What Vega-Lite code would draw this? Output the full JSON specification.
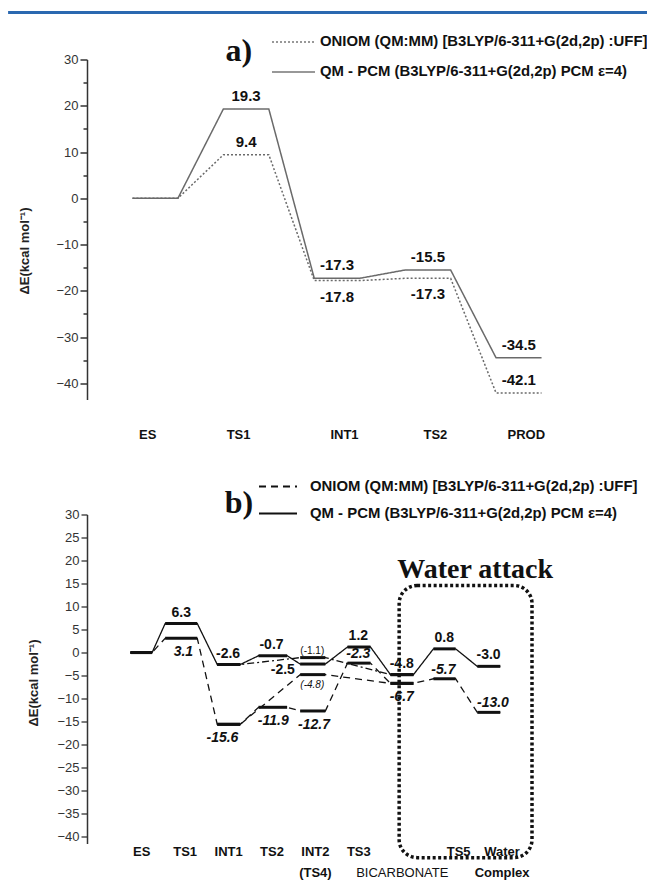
{
  "$schema": "https://vega.github.io/schema/vega-lite/v6.json",
  "padding": {"left": 6, "top": 10.5, "right": 0, "bottom": 0},
  "background": "white",
  "config": {"view": {"stroke": null}, "font": "Liberation Sans", "axis": {"grid": false, "labelOverlap": false, "labelFlush": false}, "axisY": {"tickCount": 15}},
  "bounds": "flush",
  "spacing": 115,
  "resolve": {"scale": {"strokeDash": "independent"}, "legend": {"strokeDash": "independent"}},
  "datasets": {
    "levA": [
      {"state": "ES", "idx": 0, "s": "QM - PCM (B3LYP/6-311+G(2d,2p) PCM  ε=4)", "x0": -0.25, "x1": 0.25, "E": 0, "lab": null, "pos": "none"},
      {"state": "TS1", "idx": 1, "s": "QM - PCM (B3LYP/6-311+G(2d,2p) PCM  ε=4)", "x0": 0.75, "x1": 1.25, "E": 19.3, "lab": "19.3", "pos": "above"},
      {"state": "INT1", "idx": 2, "s": "QM - PCM (B3LYP/6-311+G(2d,2p) PCM  ε=4)", "x0": 1.75, "x1": 2.25, "E": -17.3, "lab": "-17.3", "pos": "above"},
      {"state": "TS2", "idx": 3, "s": "QM - PCM (B3LYP/6-311+G(2d,2p) PCM  ε=4)", "x0": 2.75, "x1": 3.25, "E": -15.5, "lab": "-15.5", "pos": "above"},
      {"state": "PROD", "idx": 4, "s": "QM - PCM (B3LYP/6-311+G(2d,2p) PCM  ε=4)", "x0": 3.75, "x1": 4.25, "E": -34.5, "lab": "-34.5", "pos": "above"},
      {"state": "ES", "idx": 0, "s": "ONIOM (QM:MM) [B3LYP/6-311+G(2d,2p) :UFF]", "x0": -0.25, "x1": 0.25, "E": 0, "lab": null, "pos": "none"},
      {"state": "TS1", "idx": 1, "s": "ONIOM (QM:MM) [B3LYP/6-311+G(2d,2p) :UFF]", "x0": 0.75, "x1": 1.25, "E": 9.4, "lab": "9.4", "pos": "above"},
      {"state": "INT1", "idx": 2, "s": "ONIOM (QM:MM) [B3LYP/6-311+G(2d,2p) :UFF]", "x0": 1.75, "x1": 2.25, "E": -17.8, "lab": "-17.8", "pos": "below"},
      {"state": "TS2", "idx": 3, "s": "ONIOM (QM:MM) [B3LYP/6-311+G(2d,2p) :UFF]", "x0": 2.75, "x1": 3.25, "E": -17.3, "lab": "-17.3", "pos": "below"},
      {"state": "PROD", "idx": 4, "s": "ONIOM (QM:MM) [B3LYP/6-311+G(2d,2p) :UFF]", "x0": 3.75, "x1": 4.25, "E": -42.1, "lab": "-42.1", "pos": "above"}
    ],
    "levB": [
      {"path": "QM - PCM (B3LYP/6-311+G(2d,2p) PCM  ε=4)", "state": "ES", "x0": -0.25, "x1": 0.25, "E": 0},
      {"path": "QM - PCM (B3LYP/6-311+G(2d,2p) PCM  ε=4)", "state": "TS1", "x0": 0.55, "x1": 1.29, "E": 6.3},
      {"path": "QM - PCM (B3LYP/6-311+G(2d,2p) PCM  ε=4)", "state": "INT1", "x0": 1.75, "x1": 2.28, "E": -2.6},
      {"path": "QM - PCM (B3LYP/6-311+G(2d,2p) PCM  ε=4)", "state": "TS2", "x0": 2.7, "x1": 3.36, "E": -0.7},
      {"path": "QM - PCM (B3LYP/6-311+G(2d,2p) PCM  ε=4)", "state": "INT2", "x0": 3.66, "x1": 4.24, "E": -2.5},
      {"path": "QM - PCM (B3LYP/6-311+G(2d,2p) PCM  ε=4)", "state": "TS3", "x0": 4.75, "x1": 5.28, "E": 1.2},
      {"path": "QM - PCM (B3LYP/6-311+G(2d,2p) PCM  ε=4)", "state": "BICARBONATE", "x0": 5.74, "x1": 6.27, "E": -4.8},
      {"path": "QM - PCM (B3LYP/6-311+G(2d,2p) PCM  ε=4)", "state": "TS5", "x0": 6.73, "x1": 7.24, "E": 0.8},
      {"path": "QM - PCM (B3LYP/6-311+G(2d,2p) PCM  ε=4)", "state": "Water Complex", "x0": 7.74, "x1": 8.27, "E": -3.0},
      {"path": "ONIOM (QM:MM) [B3LYP/6-311+G(2d,2p) :UFF]", "state": "ES", "x0": -0.25, "x1": 0.25, "E": 0},
      {"path": "ONIOM (QM:MM) [B3LYP/6-311+G(2d,2p) :UFF]", "state": "TS1", "x0": 0.55, "x1": 1.29, "E": 3.1},
      {"path": "ONIOM (QM:MM) [B3LYP/6-311+G(2d,2p) :UFF]", "state": "INT1", "x0": 1.75, "x1": 2.28, "E": -15.6},
      {"path": "ONIOM (QM:MM) [B3LYP/6-311+G(2d,2p) :UFF]", "state": "TS2", "x0": 2.7, "x1": 3.36, "E": -11.9},
      {"path": "ONIOM (QM:MM) [B3LYP/6-311+G(2d,2p) :UFF]", "state": "INT2", "x0": 3.66, "x1": 4.24, "E": -12.7},
      {"path": "ONIOM (QM:MM) [B3LYP/6-311+G(2d,2p) :UFF]", "state": "TS3", "x0": 4.75, "x1": 5.28, "E": -2.3},
      {"path": "ONIOM (QM:MM) [B3LYP/6-311+G(2d,2p) :UFF]", "state": "BICARBONATE", "x0": 5.74, "x1": 6.27, "E": -6.7},
      {"path": "ONIOM (QM:MM) [B3LYP/6-311+G(2d,2p) :UFF]", "state": "TS5", "x0": 6.73, "x1": 7.24, "E": -5.7},
      {"path": "ONIOM (QM:MM) [B3LYP/6-311+G(2d,2p) :UFF]", "state": "Water Complex", "x0": 7.74, "x1": 8.27, "E": -13.0},
      {"path": "QM via TS4", "state": "INT1", "x0": 1.75, "x1": 2.28, "E": -2.6},
      {"path": "QM via TS4", "state": "TS4", "x0": 3.66, "x1": 4.24, "E": -1.1},
      {"path": "QM via TS4", "state": "BICARBONATE", "x0": 5.74, "x1": 6.27, "E": -4.8},
      {"path": "ONIOM via TS4", "state": "INT1", "x0": 1.75, "x1": 2.28, "E": -15.6},
      {"path": "ONIOM via TS4", "state": "TS4", "x0": 3.66, "x1": 4.24, "E": -4.8},
      {"path": "ONIOM via TS4", "state": "BICARBONATE", "x0": 5.74, "x1": 6.27, "E": -6.7}
    ],
    "labB": [
      {"lab": "6.3", "lx": 0.92, "E": 6.3, "grp": "qa"},
      {"lab": "-2.6", "lx": 2.0, "E": -2.6, "grp": "qa"},
      {"lab": "-0.7", "lx": 3.0, "E": -0.7, "grp": "qa"},
      {"lab": "-2.5", "lx": 3.26, "E": -2.5, "grp": "qb"},
      {"lab": "1.2", "lx": 5.0, "E": 1.2, "grp": "qa"},
      {"lab": "-4.8", "lx": 6.0, "E": -4.8, "grp": "qa"},
      {"lab": "0.8", "lx": 6.98, "E": 0.8, "grp": "qa"},
      {"lab": "-3.0", "lx": 8.0, "E": -3.0, "grp": "qa"},
      {"lab": "3.1", "lx": 0.97, "E": 3.1, "grp": "ob"},
      {"lab": "-15.6", "lx": 1.87, "E": -15.6, "grp": "ob"},
      {"lab": "-11.9", "lx": 3.04, "E": -11.9, "grp": "ob"},
      {"lab": "-12.7", "lx": 3.98, "E": -12.7, "grp": "ob"},
      {"lab": "-2.3", "lx": 5.0, "E": -2.3, "grp": "oa"},
      {"lab": "-6.7", "lx": 6.0, "E": -6.7, "grp": "ob"},
      {"lab": "-5.7", "lx": 6.96, "E": -5.7, "grp": "oa"},
      {"lab": "-13.0", "lx": 8.1, "E": -13.0, "grp": "oa"},
      {"lab": "(-1.1)", "lx": 3.94, "E": -1.1, "grp": "ta"},
      {"lab": "(-4.8)", "lx": 3.94, "E": -4.8, "grp": "tb"}
    ]
  },
  "vconcat": [
    {
      "width": 500,
      "height": 340,
      "layer": [
        {
          "data": {"name": "levA"},
          "transform": [{"fold": ["x0", "x1"], "as": ["end", "xp"]}],
          "mark": {"type": "line", "color": "#6a6a6a", "strokeWidth": 1.5},
          "encoding": {
            "x": {"field": "xp", "type": "quantitative", "scale": {"domain": [-0.75, 4.75], "nice": false, "zero": false},
              "axis": {"values": [0, 1, 2, 3, 4], "labelExpr": "['ES','TS1','INT1','TS2','PROD'][datum.value]", "title": null, "domain": false, "ticks": false, "labelFont": "Liberation Sans", "labelFontWeight": "bold", "labelFontSize": 13, "labelColor": "#111", "labelPadding": 29, "labelOffset": {"condition": {"test": "datum.value >= 2", "value": 7}, "value": -8}, "labelFlush": false, "labelOverlap": false}},
            "y": {"field": "E", "type": "quantitative", "scale": {"domain": [-43.5, 30], "nice": false, "zero": false},
              "axis": {"tickCount": 15, "labelExpr": "datum.value % 10 === 0 ? datum.label : ''", "tickSize": {"condition": {"test": "datum.value % 10 === 0", "value": 7}, "value": 4}, "tickColor": "#333", "tickWidth": 1.5, "domainColor": "#333", "domainWidth": 1.5, "labelFont": "Liberation Sans", "labelFontSize": 13, "labelColor": "#333", "labelPadding": 2, "title": "ΔE(kcal mol⁻¹)", "titleFont": "Liberation Sans", "titleFontSize": 13, "titleFontWeight": "bold", "titleColor": "#222", "titleX": -56, "titleY": 191, "labelFlush": false, "labelOverlap": false}},
            "strokeDash": {"field": "s", "type": "nominal",
              "scale": {"domain": ["ONIOM (QM:MM) [B3LYP/6-311+G(2d,2p) :UFF]", "QM - PCM (B3LYP/6-311+G(2d,2p) PCM  ε=4)"], "range": [[2, 2], [1, 0]]},
              "legend": {"orient": "none", "legendX": 184, "legendY": -40, "title": null, "padding": 0, "symbolType": "stroke", "symbolSize": 1849, "symbolStrokeColor": "#777", "symbolStrokeWidth": 1.5, "labelFont": "Liberation Sans", "labelFontSize": 14.9, "labelFontWeight": "bold", "labelColor": "#111", "labelLimit": 600, "labelOffset": 4, "rowPadding": -4}}
          }
        },
        {
          "data": {"name": "levA"},
          "transform": [{"filter": "datum.pos === 'above'"}],
          "mark": {"type": "text", "baseline": "alphabetic", "dy": -8, "font": "Liberation Sans", "fontSize": 15, "fontWeight": "bold", "color": "#111"},
          "encoding": {
            "x": {"field": "idx", "type": "quantitative"},
            "y": {"field": "E", "type": "quantitative"},
            "text": {"field": "lab"}
          }
        },
        {
          "data": {"name": "levA"},
          "transform": [{"filter": "datum.pos === 'below'"}],
          "mark": {"type": "text", "baseline": "alphabetic", "dy": 21, "font": "Liberation Sans", "fontSize": 15, "fontWeight": "bold", "color": "#111"},
          "encoding": {
            "x": {"field": "idx", "type": "quantitative"},
            "y": {"field": "E", "type": "quantitative"},
            "text": {"field": "lab"}
          }
        },
        {
          "data": {"values": [{}]},
          "mark": {"type": "text", "text": "a)", "baseline": "alphabetic", "font": "Liberation Serif", "fontSize": 32, "fontWeight": "bold", "color": "#111"},
          "encoding": {
            "x": {"datum": 0.92, "type": "quantitative"},
            "y": {"datum": 29.6, "type": "quantitative"}
          }
        },
        {
          "data": {"values": [{}]},
          "mark": {"type": "rule", "color": "#2a68b0", "strokeWidth": 3},
          "encoding": {
            "x": {"datum": -1.618, "type": "quantitative"},
            "x2": {"datum": 5.43},
            "y": {"datum": 40.16, "type": "quantitative"}
          }
        }
      ]
    },
    {
      "width": 445,
      "height": 329,
      "layer": [
        {
          "data": {"name": "levB"},
          "transform": [{"fold": ["x0", "x1"], "as": ["end", "xp"]}],
          "mark": {"type": "line", "color": "#111", "strokeWidth": 1.3},
          "encoding": {
            "x": {"field": "xp", "type": "quantitative", "scale": {"domain": [-1.25, 9.0], "nice": false, "zero": false},
              "axis": {"values": [0, 1, 2, 3, 4, 5, 6, 7, 8], "labelExpr": "[['ES'],['TS1'],['INT1'],['TS2'],['INT2','(TS4)'],['TS3'],['','BICARBONATE'],['TS5'],['Water','Complex']][datum.value]", "title": null, "domain": false, "ticks": false, "labelFont": "Liberation Sans", "labelFontWeight": {"condition": {"test": "datum.value === 6", "value": "normal"}, "value": "bold"}, "labelOffset": {"condition": {"test": "datum.value >= 7", "value": 13}, "value": 0}, "labelFontSize": 13, "labelColor": "#111", "labelPadding": 2, "labelLineHeight": 21, "labelFlush": false, "labelOverlap": false}},
            "y": {"field": "E", "type": "quantitative", "scale": {"domain": [-41.5, 30], "nice": false, "zero": false},
              "axis": {"tickCount": 15, "tickSize": 6, "tickColor": "#333", "tickWidth": 1.3, "domainColor": "#333", "domainWidth": 1.5, "labelFont": "Liberation Sans", "labelFontSize": 13, "labelColor": "#333", "labelPadding": 2, "title": "ΔE(kcal mol⁻¹)", "titleFont": "Liberation Sans", "titleFontSize": 13, "titleFontWeight": "bold", "titleColor": "#222", "titleX": -47, "titleY": 168, "labelFlush": false, "labelOverlap": false}},
            "strokeDash": {"field": "path", "type": "nominal",
              "scale": {"domain": ["ONIOM (QM:MM) [B3LYP/6-311+G(2d,2p) :UFF]", "QM - PCM (B3LYP/6-311+G(2d,2p) PCM  ε=4)", "QM via TS4", "ONIOM via TS4"], "range": [[7, 5], [1, 0], [7, 3, 2, 3], [7, 5]]},
              "legend": {"values": ["ONIOM (QM:MM) [B3LYP/6-311+G(2d,2p) :UFF]", "QM - PCM (B3LYP/6-311+G(2d,2p) PCM  ε=4)"], "orient": "none", "legendX": 171, "legendY": -48, "title": null, "padding": 0, "symbolType": "stroke", "symbolSize": 1444, "symbolStrokeColor": "#111", "symbolStrokeWidth": 2, "labelFont": "Liberation Sans", "labelFontSize": 14.9, "labelFontWeight": "bold", "labelColor": "#111", "labelLimit": 600, "labelOffset": 12, "rowPadding": -6}}
          }
        },
        {
          "data": {"name": "levB"},
          "mark": {"type": "rule", "color": "#111", "strokeWidth": 3},
          "encoding": {
            "x": {"field": "x0", "type": "quantitative"},
            "x2": {"field": "x1"},
            "y": {"field": "E", "type": "quantitative"}
          }
        },
        {
          "data": {"name": "labB"},
          "transform": [{"filter": "datum.grp === 'qa'"}],
          "mark": {"type": "text", "baseline": "alphabetic", "dy": -7, "font": "Liberation Sans", "fontSize": 14, "fontWeight": "bold", "color": "#111"},
          "encoding": {"x": {"field": "lx", "type": "quantitative"}, "y": {"field": "E", "type": "quantitative"}, "text": {"field": "lab"}}
        },
        {
          "data": {"name": "labB"},
          "transform": [{"filter": "datum.grp === 'qb'"}],
          "mark": {"type": "text", "baseline": "alphabetic", "dy": 10, "font": "Liberation Sans", "fontSize": 14, "fontWeight": "bold", "color": "#111"},
          "encoding": {"x": {"field": "lx", "type": "quantitative"}, "y": {"field": "E", "type": "quantitative"}, "text": {"field": "lab"}}
        },
        {
          "data": {"name": "labB"},
          "transform": [{"filter": "datum.grp === 'oa'"}],
          "mark": {"type": "text", "baseline": "alphabetic", "dy": -5, "font": "Liberation Sans", "fontSize": 14, "fontWeight": "bold", "fontStyle": "italic", "color": "#111"},
          "encoding": {"x": {"field": "lx", "type": "quantitative"}, "y": {"field": "E", "type": "quantitative"}, "text": {"field": "lab"}}
        },
        {
          "data": {"name": "labB"},
          "transform": [{"filter": "datum.grp === 'ob'"}],
          "mark": {"type": "text", "baseline": "alphabetic", "dy": 18, "font": "Liberation Sans", "fontSize": 14, "fontWeight": "bold", "fontStyle": "italic", "color": "#111"},
          "encoding": {"x": {"field": "lx", "type": "quantitative"}, "y": {"field": "E", "type": "quantitative"}, "text": {"field": "lab"}}
        },
        {
          "data": {"name": "labB"},
          "transform": [{"filter": "datum.grp === 'ta'"}],
          "mark": {"type": "text", "baseline": "alphabetic", "dy": -4, "font": "Liberation Sans", "fontSize": 10, "color": "#111"},
          "encoding": {"x": {"field": "lx", "type": "quantitative"}, "y": {"field": "E", "type": "quantitative"}, "text": {"field": "lab"}}
        },
        {
          "data": {"name": "labB"},
          "transform": [{"filter": "datum.grp === 'tb'"}],
          "mark": {"type": "text", "baseline": "alphabetic", "dy": 13, "font": "Liberation Sans", "fontSize": 10, "fontStyle": "italic", "color": "#111"},
          "encoding": {"x": {"field": "lx", "type": "quantitative"}, "y": {"field": "E", "type": "quantitative"}, "text": {"field": "lab"}}
        },
        {
          "data": {"values": [{}]},
          "mark": {"type": "rect", "fill": null, "fillOpacity": 0, "stroke": "#111", "strokeWidth": 3.5, "strokeDash": [3, 2.5], "cornerRadius": 18},
          "encoding": {
            "x": {"datum": 5.94, "type": "quantitative"},
            "x2": {"datum": 9.0},
            "y": {"datum": 14.57, "type": "quantitative"},
            "y2": {"datum": -44.57}
          }
        },
        {
          "data": {"values": [{}]},
          "mark": {"type": "text", "text": "Water attack", "baseline": "alphabetic", "font": "Liberation Serif", "fontSize": 28, "fontWeight": "bold", "color": "#111"},
          "encoding": {
            "x": {"datum": 7.69, "type": "quantitative"},
            "y": {"datum": 16.3, "type": "quantitative"}
          }
        },
        {
          "data": {"values": [{}]},
          "mark": {"type": "text", "text": "b)", "baseline": "alphabetic", "font": "Liberation Serif", "fontSize": 32, "fontWeight": "bold", "color": "#111"},
          "encoding": {
            "x": {"datum": 2.25, "type": "quantitative"},
            "y": {"datum": 30.4, "type": "quantitative"}
          }
        }
      ]
    }
  ]
}
